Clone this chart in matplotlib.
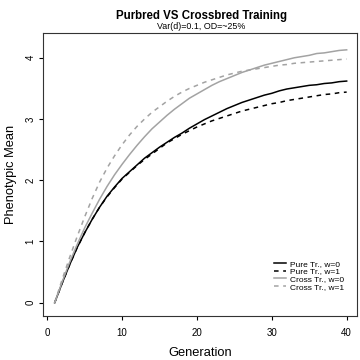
import numpy as np
import matplotlib
matplotlib.use('Agg')
import matplotlib.pyplot as plt

plt.rcParams['font.family'] = ['Liberation Sans', 'DejaVu Sans']

generation = list(range(1, 41))

pure_w0 = [0, 0.32, 0.62, 0.90, 1.14, 1.36, 1.56, 1.74, 1.89, 2.03,
           2.14, 2.25, 2.36, 2.45, 2.54, 2.62, 2.70, 2.77, 2.85, 2.92,
           2.99, 3.05, 3.11, 3.17, 3.22, 3.27, 3.31, 3.35, 3.39, 3.42,
           3.46, 3.49, 3.51, 3.53, 3.55, 3.56, 3.58, 3.59, 3.61, 3.62]
pure_w1 = [0, 0.32, 0.62, 0.90, 1.14, 1.36, 1.56, 1.73, 1.88, 2.02,
           2.13, 2.24, 2.34, 2.43, 2.52, 2.61, 2.68, 2.75, 2.81, 2.87,
           2.92, 2.97, 3.01, 3.05, 3.09, 3.13, 3.16, 3.19, 3.22, 3.25,
           3.27, 3.30, 3.32, 3.34, 3.36, 3.38, 3.40, 3.41, 3.43, 3.44]
cross_w0 = [0, 0.34, 0.66, 0.95, 1.22, 1.46, 1.69, 1.90, 2.09, 2.26,
            2.42, 2.57, 2.71, 2.84, 2.95, 3.06, 3.16, 3.25, 3.34, 3.41,
            3.48, 3.55, 3.61, 3.66, 3.71, 3.76, 3.80, 3.84, 3.88, 3.91,
            3.94, 3.97, 4.00, 4.02, 4.04, 4.07, 4.08, 4.10, 4.12, 4.13]
cross_w1 = [0, 0.38, 0.74, 1.08, 1.40, 1.70, 1.97, 2.20, 2.40, 2.58,
            2.74, 2.88, 3.00, 3.11, 3.20, 3.29, 3.37, 3.44, 3.50, 3.55,
            3.60, 3.64, 3.68, 3.72, 3.75, 3.78, 3.80, 3.82, 3.84, 3.86,
            3.88, 3.89, 3.91, 3.92, 3.93, 3.94, 3.95, 3.96, 3.97, 3.98]

labels = ['Pure Tr., w=0', 'Pure Tr., w=1', 'Cross Tr., w=0', 'Cross Tr., w=1']
grey = '#a3a3a3'

fig = plt.figure(figsize=(3.6, 3.6), dpi=100)
ax = fig.add_axes([42.7 / 360, 44.3 / 360, 314.6 / 360, 282.4 / 360])

ax.plot(generation, pure_w0, color='black', lw=1.1, label=labels[0])
ax.plot(generation, pure_w1, color='black', lw=1.1, dashes=(3, 3), label=labels[1])
ax.plot(generation, cross_w0, color=grey, lw=1.1, label=labels[2])
ax.plot(generation, cross_w1, color=grey, lw=1.1, dashes=(3, 3), label=labels[3])

ax.set_xlim(-0.6, 41.42)
ax.set_ylim(-0.212, 4.40)
ax.set_xticks([0, 10, 20, 30, 40])
ax.set_yticks([0, 1, 2, 3, 4])
ax.tick_params(direction='out', length=3, width=0.8, labelsize=7)
ax.tick_params(axis='x', pad=6)
ax.tick_params(axis='y', pad=2, labelrotation=90)
for lab in ax.get_yticklabels():
    lab.set_va('center')
for sp in ax.spines.values():
    sp.set_linewidth(0.8)
    sp.set_color('#333333')

ax.set_xlabel('Generation', fontsize=9.3, labelpad=6.5)
ax.set_ylabel('Phenotypic Mean', fontsize=9.3, labelpad=6)

# title + subtitle placed by baseline
fig.text(0.5 + 21 / 360, 1 - 18.5 / 360, 'Purbred VS Crossbred Training',
         ha='center', va='baseline', fontsize=8.3, fontweight='bold')
fig.text(0.5 + 21 / 360, 1 - 29 / 360, 'Var(d)=0.1, OD=~25%',
         ha='center', va='baseline', fontsize=6.4)

ax.legend(loc='lower left', bbox_to_anchor=(0.735, 0.088), frameon=False,
          fontsize=6.0, handlelength=1.5, handletextpad=0.45,
          labelspacing=-0.02, borderpad=0, borderaxespad=0)

fig.savefig('out.png', dpi=100)
